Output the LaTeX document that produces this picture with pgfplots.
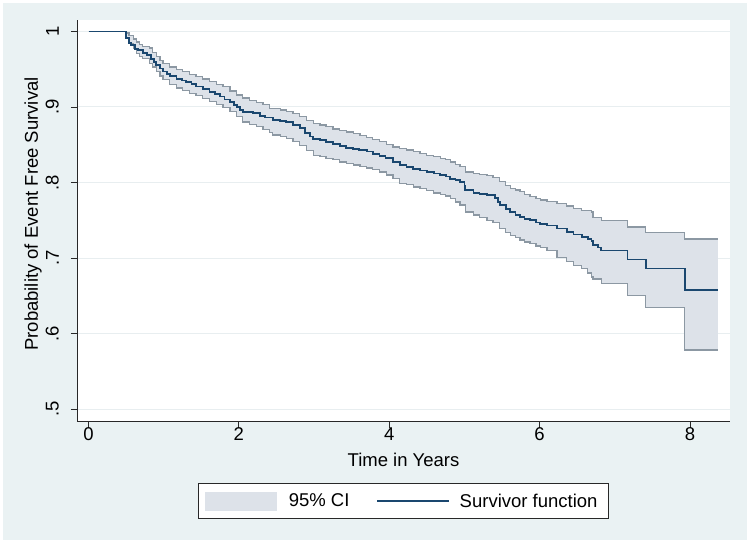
\documentclass[border=0pt]{standalone}
\usepackage{fontspec}
\setmainfont{Liberation Sans}
\usepackage{pgfplots}
\usepackage{pgfplotstable}
\pgfplotsset{compat=1.18}
\definecolor{bgc}{RGB}{234,242,243}
\definecolor{navy}{RGB}{26,71,111}
\definecolor{cifill}{RGB}{221,226,233}
\definecolor{ciline}{RGB}{140,152,163}
\definecolor{gridc}{RGB}{232,238,240}
\definecolor{axc}{RGB}{40,40,40}

\pgfplotstableread{
x y
0.00 1.000
0.50 0.991
0.54 0.985
0.57 0.982
0.62 0.977
0.66 0.975
0.72 0.972
0.78 0.969
0.83 0.964
0.87 0.960
0.90 0.956
0.95 0.951
0.99 0.947
1.04 0.944
1.08 0.941
1.17 0.937
1.24 0.935
1.30 0.933
1.37 0.930
1.43 0.927
1.52 0.924
1.61 0.920
1.68 0.917
1.75 0.914
1.81 0.910
1.88 0.907
1.93 0.903
1.97 0.900
2.02 0.896
2.05 0.893
2.19 0.892
2.28 0.888
2.35 0.886
2.45 0.883
2.55 0.881
2.63 0.880
2.72 0.876
2.81 0.872
2.88 0.866
2.95 0.861
2.99 0.858
3.08 0.856
3.16 0.854
3.25 0.851
3.34 0.848
3.43 0.846
3.52 0.844
3.60 0.843
3.70 0.841
3.78 0.838
3.87 0.835
3.95 0.832
4.05 0.827
4.14 0.823
4.23 0.820
4.32 0.818
4.41 0.816
4.50 0.814
4.59 0.812
4.68 0.810
4.75 0.808
4.81 0.805
4.88 0.803
4.94 0.801
5.00 0.795
5.01 0.790
5.12 0.786
5.20 0.785
5.30 0.783
5.41 0.779
5.45 0.774
5.47 0.770
5.55 0.765
5.61 0.761
5.68 0.757
5.74 0.754
5.80 0.752
5.87 0.750
5.95 0.747
6.01 0.745
6.10 0.743
6.23 0.739
6.36 0.734
6.45 0.731
6.56 0.728
6.64 0.725
6.69 0.723
6.71 0.717
6.78 0.714
6.82 0.710
7.17 0.698
7.41 0.686
7.93 0.658
8.37 0.658
}\survtab

\pgfplotstableread{
x y
0.00 1.000
0.50 0.998
0.54 0.995
0.60 0.990
0.64 0.986
0.68 0.983
0.72 0.980
0.81 0.978
0.85 0.972
0.90 0.967
0.95 0.962
0.99 0.958
1.08 0.953
1.17 0.950
1.25 0.947
1.34 0.943
1.43 0.940
1.52 0.937
1.61 0.934
1.70 0.930
1.79 0.927
1.88 0.921
1.97 0.916
2.05 0.912
2.14 0.909
2.23 0.906
2.32 0.903
2.41 0.898
2.55 0.896
2.63 0.894
2.72 0.891
2.81 0.887
2.90 0.882
2.99 0.878
3.08 0.876
3.16 0.874
3.25 0.871
3.34 0.869
3.43 0.867
3.52 0.865
3.61 0.862
3.70 0.860
3.78 0.857
3.87 0.854
3.96 0.850
4.05 0.847
4.14 0.845
4.23 0.843
4.32 0.841
4.41 0.838
4.50 0.836
4.59 0.834
4.68 0.832
4.75 0.830
4.81 0.827
4.88 0.824
4.94 0.821
5.01 0.814
5.12 0.812
5.20 0.811
5.30 0.809
5.38 0.807
5.47 0.801
5.55 0.796
5.61 0.792
5.68 0.790
5.74 0.788
5.80 0.784
5.87 0.781
5.95 0.779
6.01 0.777
6.10 0.775
6.23 0.772
6.36 0.769
6.45 0.766
6.56 0.763
6.69 0.761
6.71 0.754
6.82 0.750
7.17 0.741
7.41 0.734
7.93 0.725
8.37 0.725
}\uppertab

\pgfplotstableread{
x y
0.00 1.000
0.50 0.992
0.54 0.984
0.60 0.977
0.64 0.971
0.68 0.967
0.72 0.964
0.81 0.958
0.85 0.953
0.90 0.947
0.95 0.941
0.99 0.936
1.08 0.930
1.17 0.925
1.25 0.922
1.34 0.918
1.43 0.915
1.52 0.911
1.61 0.907
1.70 0.903
1.79 0.899
1.88 0.894
1.97 0.887
2.05 0.880
2.14 0.877
2.23 0.874
2.32 0.870
2.41 0.866
2.45 0.863
2.55 0.861
2.63 0.858
2.72 0.854
2.81 0.849
2.90 0.842
2.99 0.836
3.08 0.834
3.16 0.832
3.25 0.830
3.34 0.827
3.43 0.825
3.52 0.823
3.61 0.821
3.70 0.819
3.78 0.817
3.87 0.814
3.96 0.810
4.05 0.805
4.14 0.799
4.23 0.797
4.32 0.794
4.41 0.792
4.50 0.789
4.59 0.786
4.68 0.784
4.75 0.782
4.81 0.779
4.88 0.774
4.94 0.770
5.01 0.761
5.12 0.757
5.20 0.754
5.30 0.750
5.38 0.747
5.47 0.739
5.55 0.734
5.61 0.730
5.68 0.727
5.74 0.724
5.80 0.721
5.87 0.719
5.95 0.716
6.01 0.714
6.10 0.710
6.23 0.701
6.36 0.695
6.45 0.690
6.56 0.686
6.64 0.680
6.69 0.675
6.71 0.672
6.82 0.666
7.17 0.650
7.41 0.634
7.93 0.578
8.37 0.578
}\lowertab

% CI band outline: upper bound forward, then lower bound backward
% (each lower x paired with the level held just before it)
\pgfplotstableread{
x y
0.50 0.998
0.54 0.995
0.60 0.990
0.64 0.986
0.68 0.983
0.72 0.980
0.81 0.978
0.85 0.972
0.90 0.967
0.95 0.962
0.99 0.958
1.08 0.953
1.17 0.950
1.25 0.947
1.34 0.943
1.43 0.940
1.52 0.937
1.61 0.934
1.70 0.930
1.79 0.927
1.88 0.921
1.97 0.916
2.05 0.912
2.14 0.909
2.23 0.906
2.32 0.903
2.41 0.898
2.55 0.896
2.63 0.894
2.72 0.891
2.81 0.887
2.90 0.882
2.99 0.878
3.08 0.876
3.16 0.874
3.25 0.871
3.34 0.869
3.43 0.867
3.52 0.865
3.61 0.862
3.70 0.860
3.78 0.857
3.87 0.854
3.96 0.850
4.05 0.847
4.14 0.845
4.23 0.843
4.32 0.841
4.41 0.838
4.50 0.836
4.59 0.834
4.68 0.832
4.75 0.830
4.81 0.827
4.88 0.824
4.94 0.821
5.01 0.814
5.12 0.812
5.20 0.811
5.30 0.809
5.38 0.807
5.47 0.801
5.55 0.796
5.61 0.792
5.68 0.790
5.74 0.788
5.80 0.784
5.87 0.781
5.95 0.779
6.01 0.777
6.10 0.775
6.23 0.772
6.36 0.769
6.45 0.766
6.56 0.763
6.69 0.761
6.71 0.754
6.82 0.750
7.17 0.741
7.41 0.734
7.93 0.725
8.37 0.725
8.37 0.578
7.93 0.634
7.41 0.650
7.17 0.666
6.82 0.672
6.71 0.675
6.69 0.680
6.64 0.686
6.56 0.690
6.45 0.695
6.36 0.701
6.23 0.710
6.10 0.714
6.01 0.716
5.95 0.719
5.87 0.721
5.80 0.724
5.74 0.727
5.68 0.730
5.61 0.734
5.55 0.739
5.47 0.747
5.38 0.750
5.30 0.754
5.20 0.757
5.12 0.761
5.01 0.770
4.94 0.774
4.88 0.779
4.81 0.782
4.75 0.784
4.68 0.786
4.59 0.789
4.50 0.792
4.41 0.794
4.32 0.797
4.23 0.799
4.14 0.805
4.05 0.810
3.96 0.814
3.87 0.817
3.78 0.819
3.70 0.821
3.61 0.823
3.52 0.825
3.43 0.827
3.34 0.830
3.25 0.832
3.16 0.834
3.08 0.836
2.99 0.842
2.90 0.849
2.81 0.854
2.72 0.858
2.63 0.861
2.55 0.863
2.45 0.866
2.41 0.870
2.32 0.874
2.23 0.877
2.14 0.880
2.05 0.887
1.97 0.894
1.88 0.899
1.79 0.903
1.70 0.907
1.61 0.911
1.52 0.915
1.43 0.918
1.34 0.922
1.25 0.925
1.17 0.930
1.08 0.936
0.99 0.941
0.95 0.947
0.90 0.953
0.85 0.958
0.81 0.964
0.72 0.967
0.68 0.971
0.64 0.977
0.60 0.984
0.54 0.992
0.50 1.000
}\bandtab

\begin{document}
\begin{tikzpicture}
\path[fill=white, use as bounding box] (-77bp,-121.3bp) rectangle (673bp,421.7bp);
\fill[bgc] (-74bp,-118.3bp) rectangle (670bp,418.7bp);
\begin{axis}[
  at={(0,0)}, anchor=south west,
  scale only axis, width=653bp, height=401.7bp,
  xmin=-0.153, xmax=8.532, ymin=0.4832, ymax=1.0152,
  axis lines*=left,
  axis line style={-, line width=0.9bp, draw=axc},
  axis background/.style={fill=white},
  xtick={0,2,4,6,8},
  ytick={0.5,0.6,0.7,0.8,0.9,1},
  yticklabels={.5,.6,.7,.8,.9,1},
  tick align=outside, major tick length=6bp,
  tick style={line width=0.9bp, draw=axc},
  ymajorgrids, grid style={gridc, line width=1bp},
  /pgf/number format/assume math mode=true,
  tick label style={font=\fontsize{18.5bp}{22bp}\selectfont, inner sep=0pt},
  label style={font=\fontsize{18.5bp}{22bp}\selectfont, inner sep=0pt},
  yticklabel style={rotate=90, anchor=south},
  yticklabel shift=12bp,
  xticklabel style={anchor=north},
  xlabel={Time in Years},
  ylabel={Probability of Event Free Survival},
  xlabel style={at={(axis description cs:0.5,0)}, anchor=base, yshift=-45bp},
  ylabel style={at={(axis description cs:-0.0674,0.517)}, anchor=center},
  legend columns=2,
  legend cell align=left,
  legend style={at={(axis description cs:0.5,-0.1533)}, anchor=north,
    draw=axc, line width=0.9bp, fill=white,
    inner xsep=6.7bp, inner ysep=8.2bp,
    font=\fontsize{18.5bp}{22bp}\selectfont,
    column sep=0pt,
    nodes={inner sep=0pt},
    /tikz/every even column/.append style={column sep=27bp}},
]
\addplot[const plot, fill=cifill, draw=none,
  legend image code/.code={\fill[cifill] (0bp,-9.3bp) rectangle (71.6bp,9.3bp); \path (83.3bp,0bp);}]
  table[x=x,y=y] {\bandtab};
\addlegendentry{95\% CI}
\addplot[const plot, draw=ciline, line width=1.3bp, forget plot] table[x=x,y=y] {\uppertab};
\addplot[const plot, draw=ciline, line width=1.3bp, forget plot] table[x=x,y=y] {\lowertab};
\addplot[const plot, draw=navy, line width=1.8bp,
  legend image code/.code={\draw[navy, line width=1.6bp] (0bp,0bp) -- (71.6bp,0bp); \path (81.6bp,0bp);}]
  table[x=x,y=y] {\survtab};
\addlegendentry{Survivor function\hspace*{4bp}}
\end{axis}
\end{tikzpicture}
\end{document}
